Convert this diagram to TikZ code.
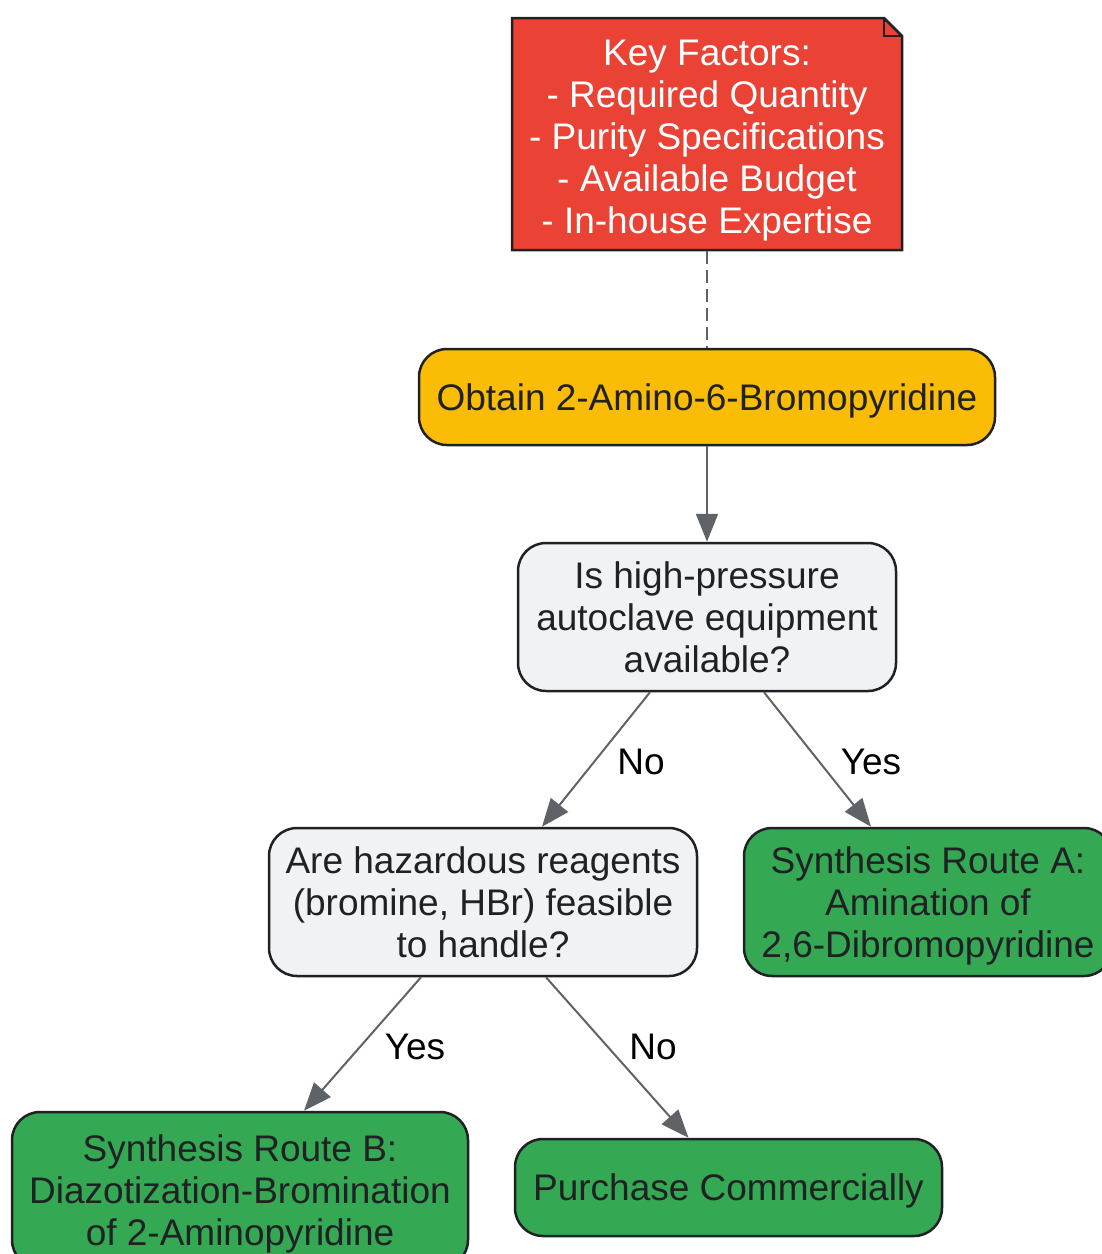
\documentclass[tikz,border=0pt]{standalone}
\usepackage{fontspec}
\setmainfont{Liberation Sans}
\usepackage{xcolor}
\usepackage{tikz}
\usetikzlibrary{arrows.meta}

\definecolor{notered}{HTML}{EA4335}
\definecolor{startyellow}{HTML}{FBBC05}
\definecolor{askgray}{HTML}{F1F2F4}
\definecolor{routegreen}{HTML}{34A853}
\definecolor{edgegray}{HTML}{5F6368}
\definecolor{inkdark}{HTML}{202124}

\begin{document}
\begin{tikzpicture}[x=1pt,y=-1pt,
  box/.style={draw=inkdark, line width=2.5pt, rounded corners=28pt, inner sep=0pt,
    align=center, text=inkdark, text depth=0pt, font=\fontsize{37}{42}\selectfont},
  ask/.style={box, fill=askgray},
  route/.style={box, fill=routegreen},
  arr/.style={draw=edgegray, line width=2pt, -{Triangle[length=28pt,width=22pt]}},
  lbl/.style={font=\fontsize{37}{42}\selectfont, text=black}]

\useasboundingbox (0,0) rectangle (1102,1254);
\clip (0,0) rectangle (1102,1254);

% note with folded corner
\draw [fill=notered, draw=inkdark, line width=2.5pt] (512,18) -- (884,18) -- (902,36) -- (902,250) -- (512,250) -- cycle;
\draw [draw=inkdark, line width=2.5pt] (884,18) -- (884,36) -- (902,36);
\node (note) [align=center, text=white, font=\fontsize{37}{42}\selectfont] at (707,141)
  {Key Factors:\\- Required Quantity\\- Purity Specifications\\- Available Budget\\- In-house Expertise};

\node (obtain) [box, fill=startyellow, minimum width=576pt, minimum height=96pt] at (707,397) {Obtain 2-Amino-6-Bromopyridine};
\node (q1) [ask, minimum width=378pt, minimum height=148pt] at (707,617) {Is high-pressure\\autoclave equipment\\available?};
\node (q2) [ask, minimum width=428pt, minimum height=148pt] at (483,902) {Are hazardous reagents\\(bromine, HBr) feasible\\to handle?};
\node (routeA) [route, minimum width=368pt, minimum height=148pt] at (928,902) {Synthesis Route A:\\Amination of\\2,6-Dibromopyridine};
\node (routeB) [route, minimum width=456pt, minimum height=156pt] at (240,1190) {Synthesis Route B:\\Diazotization-Bromination\\of 2-Aminopyridine};
\node (buy) [route, minimum width=427pt, minimum height=97pt] at (728.5,1187.5) {Purchase Commercially};

\draw [edgegray, line width=2.5pt, dash pattern=on 13pt off 6pt] (note.south |- 0,251) -- (obtain.north);
\draw [arr] (obtain) -- (q1);
\draw [arr] ([xshift=-57]q1.south) -- ([xshift=59]q2.north);
\draw [arr] ([xshift=57]q1.south) -- ([xshift=-57]routeA.north);
\draw [arr] ([xshift=-62]q2.south) -- ([xshift=64]routeB.north);
\draw [arr] ([xshift=63]q2.south) -- ([xshift=-40]buy.north);

\node (noA) [lbl] at (641,762) {No};
\node (yesA) [lbl] at (871,762) {Yes};
\node (yesB) [lbl] at (415,1047) {Yes};
\node (noB) [lbl] at (653,1047) {No};

\end{tikzpicture}
\end{document}
